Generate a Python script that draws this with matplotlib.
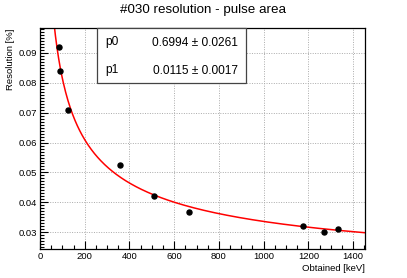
import numpy as np
import matplotlib
matplotlib.use("Agg")
import matplotlib.pyplot as plt
from matplotlib.ticker import MultipleLocator

# measured points
energy = [85, 91, 125, 358, 511, 668, 1178, 1270, 1333]
resolution = [0.0921, 0.0840, 0.0708, 0.0525, 0.0422, 0.0367, 0.0322, 0.0302, 0.0310]

# fit parameters: p0 / sqrt(E) + p1
p0, p0_err = 0.6994, 0.0261
p1, p1_err = 0.0115, 0.0017

title = "#030 resolution - pulse area"
xlabel = "Obtained [keV]"
ylabel = "Resolution [%]"

plt.rcParams["font.family"] = ["Liberation Sans", "DejaVu Sans"]

fig = plt.figure(figsize=(4.07, 2.78), dpi=100)
ax = fig.add_axes([0.0983, 0.1032, 0.7985, 0.7948])

xfit = np.linspace(55, 1450, 400)
ax.plot(xfit, p0 / np.sqrt(xfit) + p1, color="#ff0000", lw=1.1, zorder=2)
ax.plot(energy, resolution, "o", color="black", ms=3.6, zorder=3)

ax.set_xlim(0, 1453)
ax.set_ylim(0.0243, 0.0982)
ax.xaxis.set_major_locator(MultipleLocator(200))
ax.xaxis.set_minor_locator(MultipleLocator(50))
ax.yaxis.set_major_locator(MultipleLocator(0.01))
ax.yaxis.set_minor_locator(MultipleLocator(0.001))
ax.yaxis.set_major_formatter(plt.FuncFormatter(lambda v, p: f"{v:.2f}"))
ax.tick_params(which="both", direction="in", labelsize=6.8, top=False, right=False, pad=2)
ax.tick_params(which="major", length=6, width=0.8)
ax.tick_params(which="minor", length=3, width=0.8)
ax.grid(True, which="major", color="#aaaaaa", ls=(0, (1, 1.5)), lw=0.7)
for s in ax.spines.values():
    s.set_linewidth(0.9)

ax.set_xlabel(xlabel, fontsize=6.8, ha="right", x=1.0, labelpad=2)
ax.set_ylabel(ylabel, fontsize=6.8, ha="right", y=1.0, labelpad=3)
fig.text(0.5, 0.965, title, ha="center", va="center", fontsize=9.6)

# fit parameter box
bx0, by0 = 97.3 / 407, 1 - 82.7 / 278
bw, bh = (246 - 97.3) / 407, (82.7 - 28.3) / 278
box = plt.Rectangle((bx0, by0), bw, bh, transform=fig.transFigure,
                    facecolor="white", edgecolor="#444444", lw=0.9, zorder=5)
fig.add_artist(box)
fig.text(105 / 407, 1 - 42 / 278, "p0", fontsize=8.6, va="center", zorder=6)
fig.text(238 / 407, 1 - 43 / 278, f"{p0:.4f} \u00b1 {p0_err:.4f}", fontsize=8.6,
         va="center", ha="right", zorder=6)
fig.text(105 / 407, 1 - 70 / 278, "p1", fontsize=8.6, va="center", zorder=6)
fig.text(238 / 407, 1 - 71 / 278, f"{p1:.4f} \u00b1 {p1_err:.4f}", fontsize=8.6,
         va="center", ha="right", zorder=6)

fig.savefig("out.png", dpi=100)
